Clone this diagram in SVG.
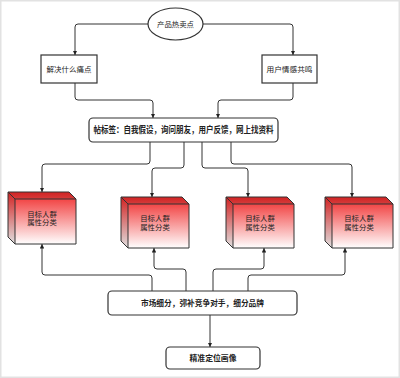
<svg xmlns="http://www.w3.org/2000/svg" width="400" height="378" viewBox="0 0 400 378">
<style>
text{font-family:"Liberation Sans","Noto Sans CJK SC",sans-serif;fill:#222;text-anchor:middle;dominant-baseline:central}
.t{font-size:7.4px}
.b{font-size:7.6px;font-weight:bold}
.hb{font-size:9.2px;font-weight:bold}
.box{fill:#fff;stroke:#333;stroke-width:1.2}
.edge{fill:none;stroke:#333;stroke-width:1;stroke-linejoin:round}
.cube{fill:url(#red)}
.dark{fill:#000;fill-opacity:0.12}
.cl{fill:none;stroke:#333;stroke-width:1;stroke-linejoin:round}
</style>
<defs>
<linearGradient id="red" x1="0" y1="0" x2="0" y2="1">
<stop offset="0" stop-color="#f02828"/>
<stop offset="1" stop-color="#ffffff"/>
</linearGradient>
<marker id="ah" viewBox="0 0 8 8" refX="8" refY="4" markerWidth="4.5" markerHeight="4.5" markerUnits="userSpaceOnUse" orient="auto">
<path d="M0,0 L8,4 L0,8 Z" fill="#222"/>
</marker>
</defs>
<rect x="0.75" y="0.75" width="398.5" height="376.5" fill="#fff" stroke="#e2e2e2" stroke-width="1.5"/>
<g id="connectors">
<path class="edge" marker-end="url(#ah)" d="M148,24 H78 Q75,24 75,27 V55"/>
<path class="edge" marker-end="url(#ah)" d="M203,24 H290 Q293,24 293,27 V55"/>
<path class="edge" marker-end="url(#ah)" d="M75,83 V97 Q75,100 78,100 H150 Q153,100 153,103 V118"/>
<path class="edge" marker-end="url(#ah)" d="M293,83 V97 Q293,100 290,100 H221 Q218,100 218,103 V118"/>
<path class="edge" marker-end="url(#ah)" d="M150,142 V161 Q150,164 147,164 H45 Q42,164 42,167 V192"/>
<path class="edge" marker-end="url(#ah)" d="M184,142 V165 Q184,168 181,168 H155 Q152,168 152,171 V197"/>
<path class="edge" marker-end="url(#ah)" d="M202,142 V165 Q202,168 205,168 H245 Q248,168 248,171 V197"/>
<path class="edge" marker-end="url(#ah)" d="M231,142 V161 Q231,164 234,164 H349 Q352,164 352,167 V197"/>
<path class="edge" marker-end="url(#ah)" d="M152,291 V278 Q152,275 149,275 H45 Q42,275 42,272 V244"/>
<path class="edge" marker-end="url(#ah)" d="M186,291 V272 Q186,269 183,269 H157 Q154,269 154,266 V248"/>
<path class="edge" marker-end="url(#ah)" d="M213,291 V272 Q213,269 216,269 H261 Q264,269 264,266 V248"/>
<path class="edge" marker-end="url(#ah)" d="M248,291 V278 Q248,275 251,275 H342 Q345,275 345,272 V248"/>
<path class="edge" marker-end="url(#ah)" d="M210,315 V347"/>
</g>
<g id="n-hot">
<ellipse cx="175.5" cy="24" rx="27.5" ry="16" class="box"/>
<text class="t" x="175.5" y="24" textLength="37" lengthAdjust="spacingAndGlyphs">产品热卖点</text>
</g>
<g id="n-pain">
<rect x="41" y="55" width="56" height="28" class="box"/>
<text class="t" x="69" y="69" textLength="45" lengthAdjust="spacingAndGlyphs">解决什么痛点</text>
</g>
<g id="n-emotion">
<rect x="262" y="55" width="55" height="28" class="box"/>
<text class="t" x="289.5" y="69" textLength="46" lengthAdjust="spacingAndGlyphs">用户情感共鸣</text>
</g>
<g id="n-tags">
<rect x="89" y="118" width="189" height="24" rx="4" class="box"/>
<text class="hb" x="183.5" y="130" textLength="180" lengthAdjust="spacingAndGlyphs">帖标签：自我假设，询问朋友，用户反馈，网上找资料</text>
</g>
<g id="n-cube1" transform="translate(8,192)">
<path class="cube" d="M0,0 H61 L68,7 V52 H7 L0,45 Z"/>
<path class="dark" d="M0,0 H61 L68,7 H7 Z M0,0 L7,7 V52 L0,45 Z"/>
<path class="cl" d="M0,0 H61 L68,7 V52 H7 L0,45 Z M0,0 L7,7 H68 M7,7 V52"/>
<text class="t"><tspan x="34" y="21.5">目标人群</tspan><tspan x="34" y="30">属性分类</tspan></text>
</g>
<g id="n-cube2" transform="translate(121,197)">
<path class="cube" d="M0,0 H61 L68,7 V51 H7 L0,44 Z"/>
<path class="dark" d="M0,0 H61 L68,7 H7 Z M0,0 L7,7 V51 L0,44 Z"/>
<path class="cl" d="M0,0 H61 L68,7 V51 H7 L0,44 Z M0,0 L7,7 H68 M7,7 V51"/>
<text class="t"><tspan x="34" y="21">目标人群</tspan><tspan x="34" y="29.5">属性分类</tspan></text>
</g>
<g id="n-cube3" transform="translate(226,197)">
<path class="cube" d="M0,0 H61 L68,7 V51 H7 L0,44 Z"/>
<path class="dark" d="M0,0 H61 L68,7 H7 Z M0,0 L7,7 V51 L0,44 Z"/>
<path class="cl" d="M0,0 H61 L68,7 V51 H7 L0,44 Z M0,0 L7,7 H68 M7,7 V51"/>
<text class="t"><tspan x="34" y="21">目标人群</tspan><tspan x="34" y="29.5">属性分类</tspan></text>
</g>
<g id="n-cube4" transform="translate(325,197)">
<path class="cube" d="M0,0 H61 L68,7 V51 H7 L0,44 Z"/>
<path class="dark" d="M0,0 H61 L68,7 H7 Z M0,0 L7,7 V51 L0,44 Z"/>
<path class="cl" d="M0,0 H61 L68,7 V51 H7 L0,44 Z M0,0 L7,7 H68 M7,7 V51"/>
<text class="t"><tspan x="34" y="21">目标人群</tspan><tspan x="34" y="29.5">属性分类</tspan></text>
</g>
<g id="n-market">
<rect x="108" y="291" width="189" height="24" rx="4" class="box"/>
<text class="b" x="202.5" y="303" textLength="123" lengthAdjust="spacingAndGlyphs">市场细分，弥补竞争对手，细分品牌</text>
</g>
<g id="n-persona">
<rect x="166" y="347" width="94" height="22" rx="4" class="box"/>
<text class="b" x="213" y="358" textLength="47" lengthAdjust="spacingAndGlyphs">精准定位画像</text>
</g>
</svg>
